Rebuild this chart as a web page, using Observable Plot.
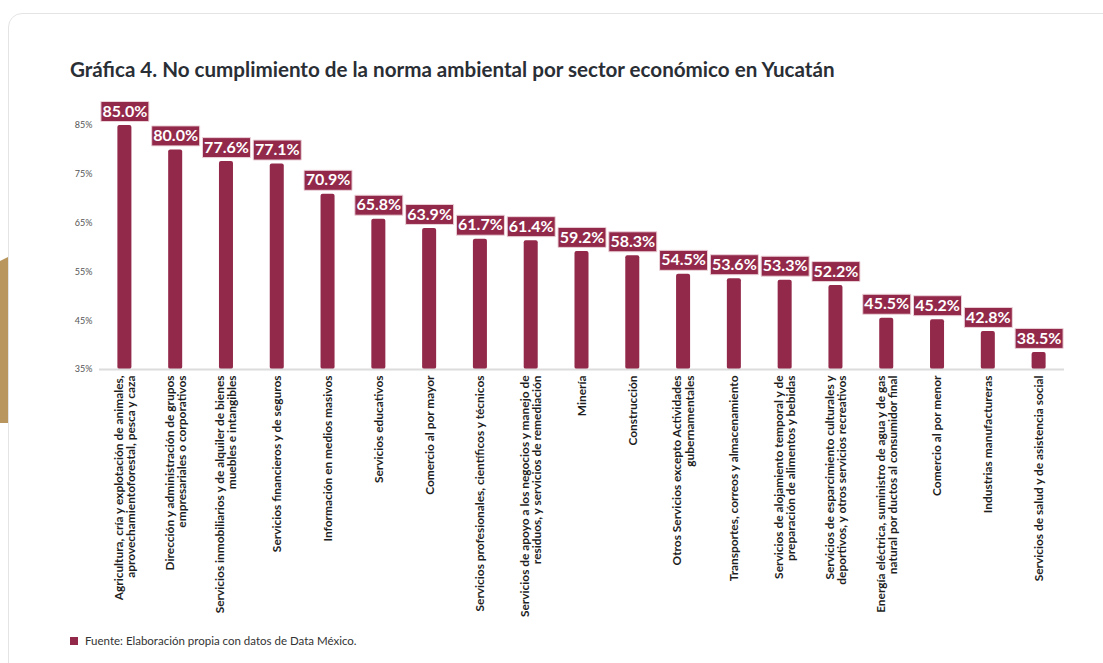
<!DOCTYPE html>
<html>
<head>
<meta charset="utf-8">
<script src="https://cdn.jsdelivr.net/npm/d3@7"></script>
<script src="https://cdn.jsdelivr.net/npm/@observablehq/plot@0.6"></script>
<style>
  html, body { margin: 0; padding: 0; background: #fff; width: 1103px; height: 663px; overflow: hidden; font-family: Lato, "Open Sans", sans-serif; }
  #card { position: absolute; left: 8px; top: 13px; width: 1120px; height: 700px; border: 1px solid #e4e4e4; border-radius: 14px; background: #fff; }
  #deco { position: absolute; left: 0; top: 257px; width: 8px; height: 166px; background: #b8965e; clip-path: polygon(0 4px, 100% 0, 100% 100%, 0 100%); }
  #title { position: absolute; left: 70px; top: 57px; margin: 0; font: 700 20.6px Lato, sans-serif; color: #2a2e35; white-space: nowrap; letter-spacing: 0; }
  #chart { position: absolute; left: 0; top: 95px; }
  #foot { position: absolute; left: 70px; top: 634px; font: 400 11.5px Lato, sans-serif; color: #333; display: flex; align-items: center; }
  #foot span.sw { display: inline-block; width: 8px; height: 8px; background: #93294a; margin-right: 7px; }
</style>
</head>
<body>
<div id="card"></div>
<div id="deco"></div>
<h2 id="title">Gráfica 4. No cumplimiento de la norma ambiental por sector económico en Yucatán</h2>
<div id="chart"></div>
<div id="foot"><span class="sw"></span>Fuente: Elaboración propia con datos de Data México.</div>
<script>
const categories = [
  "Agricultura, cría y explotación de animales, aprovechamientoforestal, pesca y caza",
  "Dirección y administración de grupos empresariales o corporativos",
  "Servicios inmobiliarios y de alquiler de bienes muebles e intangibles",
  "Servicios financieros y de seguros",
  "Información en medios masivos",
  "Servicios educativos",
  "Comercio al por mayor",
  "Servicios profesionales, científicos y técnicos",
  "Servicios de apoyo a los negocios y manejo de residuos, y servicios de remediación",
  "Minería",
  "Construcción",
  "Otros Servicios excepto Actividades gubernamentales",
  "Transportes, correos y almacenamiento",
  "Servicios de alojamiento temporal y de preparación de alimentos y bebidas",
  "Servicios de esparcimiento culturales y deportivos, y otros servicios recreativos",
  "Energía eléctrica, suministro de agua y de gas natural por ductos al consumidor final",
  "Comercio al por menor",
  "Industrias manufactureras",
  "Servicios de salud y de asistencia social"
];
const tickLabels = [
  "Agricultura, cría y explotación de animales,\naprovechamientoforestal, pesca y caza",
  "Dirección y administración de grupos\nempresariales o corporativos",
  "Servicios inmobiliarios y de alquiler de bienes\nmuebles e intangibles",
  "Servicios financieros y de seguros",
  "Información en medios masivos",
  "Servicios educativos",
  "Comercio al por mayor",
  "Servicios profesionales, científicos y técnicos",
  "Servicios de apoyo a los negocios y manejo de\nresiduos, y servicios de remediación",
  "Minería",
  "Construcción",
  "Otros Servicios excepto Actividades\ngubernamentales",
  "Transportes, correos y almacenamiento",
  "Servicios de alojamiento temporal y de\npreparación de alimentos y bebidas",
  "Servicios de esparcimiento culturales y\ndeportivos, y otros servicios recreativos",
  "Energía eléctrica, suministro de agua y de gas\nnatural por ductos al consumidor final",
  "Comercio al por menor",
  "Industrias manufactureras",
  "Servicios de salud y de asistencia social"
];
const values = [85.0, 80.0, 77.6, 77.1, 70.9, 65.8, 63.9, 61.7, 61.4, 59.2, 58.3, 54.5, 53.6, 53.3, 52.2, 45.5, 45.2, 42.8, 38.5];
const yTicks = [35, 45, 55, 65, 75, 85];

const color = "#93294a";
const data = categories.map((c, i) => ({name: c, label: tickLabels[i], value: values[i]}));

const boxSymbol = { draw(ctx) { ctx.rect(-24, -20, 48, 20); } };

const plot = Plot.plot({
  width: 1103,
  height: 530,
  marginLeft: 99,
  marginRight: 39,
  marginTop: 30,
  marginBottom: 256,
  style: { fontFamily: "Lato, sans-serif", background: "transparent", overflow: "visible" },
  x: { domain: categories, paddingInner: 0.724, paddingOuter: 0.362, round: false, axis: null },
  y: { domain: [35, 85], axis: null },
  marks: [
    Plot.barY(data, { x: "name", y1: 35, y2: "value", fill: color, rx: 2 }),
    Plot.ruleY([35], { stroke: "#dcdcdc", strokeWidth: 2 }),
    Plot.axisY({ ticks: yTicks, tickFormat: d => d + "%", tickSize: 0, tickPadding: 7, fontSize: 9, fill: "#555", color: "#555", label: null }),
    Plot.dot(data, { x: "name", y: "value", symbol: boxSymbol, fill: color, stroke: "#ecd3da", strokeWidth: 1, dy: -4, r: 5 }),
    Plot.text(data, { x: "name", y: "value", text: d => d.value.toFixed(1) + "%", dy: -14, fill: "#fff", fontSize: 16, fontWeight: 700 }),
    Plot.text(data, { x: "name", frameAnchor: "bottom", text: "label", rotate: -90, textAnchor: "end", lineAnchor: "middle", lineHeight: 1.02, dy: 6, fontSize: 11.9, fontWeight: 700, fill: "#1e1e1e" })
  ]
});
document.getElementById("chart").appendChild(plot);
</script>
</body>
</html>
